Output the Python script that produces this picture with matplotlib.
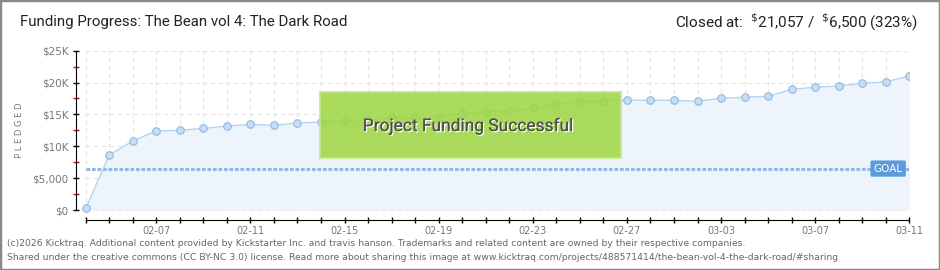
import matplotlib
matplotlib.use("Agg")
import matplotlib.pyplot as plt
import matplotlib.patheffects as pe
from matplotlib.patches import Rectangle
from matplotlib import font_manager
import numpy as np
import pandas as pd

# daily pledged totals (USD), 02-04 .. 03-11
dates = list(pd.date_range("2026-02-04", "2026-03-11").strftime("%m-%d"))
pledged = [250, 8630, 10830, 12400, 12500, 12800, 13180, 13450, 13300, 13650,
           13800, 14000, 14200, 14390, 14600, 14620, 15220, 15430, 15590, 16000,
           16630, 16950, 17160, 17240, 17220, 17220, 17060, 17530, 17690, 17840,
           18940, 19260, 19460, 19880, 20090, 21057]
goal = 6500
ytick_vals = [0, 5000, 10000, 15000, 20000, 25000]
ytick_labels = ["$0", "$5,000", "$10K", "$15K", "$20K", "$25K"]

title = "Funding Progress: The Bean vol 4: The Dark Road"
closed = r"Closed at:  $^{\$}$21,057 /  $^{\$}$6,500 (323%)"
footer1 = ("(c)2026 Kicktraq. Additional content provided by Kickstarter Inc. and travis hanson. "
           "Trademarks and related content are owned by their respective companies.")
footer2 = ("Shared under the creative commons (CC BY-NC 3.0) license. Read more about sharing this image at "
           "www.kicktraq.com/projects/488571414/the-bean-vol-4-the-dark-road/#sharing")

names = {f.name for f in font_manager.fontManager.ttflist}
narrow = "Liberation Sans Narrow" if "Liberation Sans Narrow" in names else "Roboto"

W, H = 940, 270
fig = plt.figure(figsize=(W / 100, H / 100), dpi=100)

def fx(px):
    return px / W

def fy(py):
    return 1 - py / H

x0, x1 = 76, 909.3
day_px = (909.3 - 85.7) / 35
ax = fig.add_axes([fx(x0), fy(220), (x1 - x0) / W, (220 - 50.7) / H])
days = np.arange(len(pledged))
ax.set_xlim(-(85.7 - x0) / day_px, 35)
ax.set_ylim(-(220 - 210) / 6.372 * 1000, 25000)

# grid
ax.vlines(days, 0, 25000, colors="#e4e4e4", linestyles=(0, (4, 3)), lw=0.8, zorder=0)
ax.hlines(ytick_vals, 0, 35, colors="#e4e4e4", linestyles=(0, (4, 3)), lw=0.8, zorder=0)

ax.fill_between(days, pledged, 0, color="#edf4fc", lw=0, zorder=1)
ax.hlines(goal, 0, 35, colors="#93b7e1", linestyles=(0, (1.2, 0.6)), lw=2.2, zorder=2)
ax.plot(days, pledged, color="#b6d3f3", lw=1, marker="o", ms=5.4,
        mfc="#c6ddf7", mec="#95b7de", mew=0.8, zorder=3)

ax.text(34.1, goal, "GOAL", ha="center", va="center", color="white", fontsize=7.5,
        zorder=4, bbox=dict(boxstyle="round,pad=0.3,rounding_size=0.15", fc="#5b9bd9", ec="none"))

for s in ["top", "right"]:
    ax.spines[s].set_visible(False)
ax.spines["left"].set_bounds(0, 25000)
ax.spines["bottom"].set_bounds(0, 35)
ax.spines["left"].set_color("black")
ax.spines["bottom"].set_color("black")

ax.set_yticks(ytick_vals)
ax.set_yticklabels(ytick_labels)
ax.set_yticks([2500, 7500, 12500, 17500, 22500], minor=True)
ax.tick_params(axis="y", which="major", direction="inout", length=5, width=1,
               labelsize=7.5, labelcolor="#777777", pad=3)
ax.tick_params(axis="y", which="minor", direction="inout", length=4, width=1, color="#e00000")

ax.set_xticks(days)
ax.set_xticklabels([d if (i - 3) % 4 == 0 else "" for i, d in enumerate(dates)])
ax.tick_params(axis="x", direction="inout", length=5, width=1, labelsize=7,
               labelcolor="#777777", pad=2)

fig.text(fx(20), fy(130), "P L E D G E D", rotation=90, ha="center", va="center",
         fontsize=6, color="#777777")

# success banner
fig.patches.append(Rectangle((fx(320), fy(158)), fx(301), 66 / H, transform=fig.transFigure,
                             fc="#9ed640", ec="#c6e78c", lw=1.5, alpha=0.86, zorder=5))
fig.text(fx(468), fy(126), "Project Funding Successful", ha="center", va="center",
         family=[narrow, "DejaVu Sans"], fontsize=12.5, color="#505050", zorder=6,
         path_effects=[pe.withSimplePatchShadow(offset=(0.9, -0.9), shadow_rgbFace="white", alpha=1),
                       pe.Normal()])

fig.text(fx(20), fy(22), title, ha="left", va="center", family=[narrow, "DejaVu Sans"],
         fontsize=10.8, color="#222222")
fig.text(fx(918), fy(22), closed, ha="right", va="center", family=[narrow, "DejaVu Sans"],
         fontsize=11, color="#222222")

fig.text(fx(7), fy(243), footer1, ha="left", va="center", fontsize=6.7, color="#666666")
fig.text(fx(7), fy(257), footer2, ha="left", va="center", fontsize=6.7, color="#666666")

fig.patches.append(Rectangle((0, 0), 1, 1, transform=fig.transFigure, fill=False,
                             ec="#8a8a8a", lw=2.5, zorder=10))

fig.savefig("out.png", dpi=100)
